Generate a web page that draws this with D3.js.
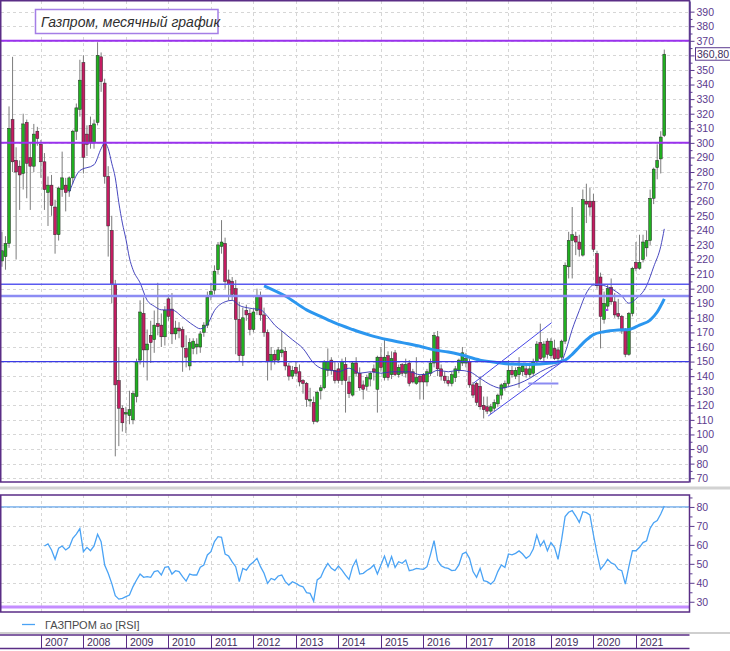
<!DOCTYPE html>
<html>
<head>
<meta charset="utf-8">
<title>Газпром, месячный график</title>
<script src="https://cdn.jsdelivr.net/npm/d3@7/dist/d3.min.js"></script>
<style>
  body { margin: 0; background: #fff; }
  svg { display: block; font-family: "Liberation Sans", Arial, sans-serif; }
  .grid line { stroke: #d6d6d6; stroke-dasharray: 3,3; shape-rendering: crispEdges; }
  .axis path, .axis line { stroke: #5b3a8e; }
  .axis text { fill: #5b3a8e; font-size: 10.5px; }
</style>
</head>
<body>
<svg id="chart" width="730" height="651"></svg>
<script>
// month index: 0 = Jan 2006, first candle is Feb 2006, last is Sep 2021
const firstIndex = 1;

const opens = [
  219,222,231,316,288,284,279,314,290,284,308,                 // 2006
  299,287,266,271,256,237,268,271,267,276,308,323,             // 2007
  355,306,312,300,314,359,341,277,240,203,137,118,             // 2008
  114,113,110,126,151,183,158,168,165,176,175,167,             // 2009
  193,186,169,173,172,159,147,159,160,160,170,175,             // 2010
  195,199,213,229,231,206,205,200,179,154,185,183,             // 2011
  172,185,195,182,170,150,155,151,156,157,147,140,             // 2012
  146,143,137,135,123,122,109,130,132,144,151,144,             // 2013
  145,137,148,136,127,149,142,134,133,138,145,131,             // 2014
  153,139,154,141,156,141,148,142,149,143,135,140,             // 2015
  141,136,142,149,167,145,140,137,135,139,144,149,             // 2016
  149,150,134,135,133,120,119,116,118,121,127,132,             // 2017
  135,144,140,141,143,145,141,142,150,163,153,164,             // 2018
  154,159,158,153,164,215,233,236,232,223,260,260,             // 2019
  260,224,208,179,188,201,191,183,181,172,155,183,             // 2020
  218,214,220,228,233,262,283,289,305                          // 2021
];
const highs = [
  239,236,325,359,297,288,320,316,300,313,311,
  302,293,277,278,261,270,294,276,277,309,327,357,
  360,312,318,316,369,362,344,284,250,206,160,120,
  119,130,130,152,192,194,172,178,185,204,183,188,
  196,197,178,177,174,168,166,166,166,171,177,198,
  204,216,232,247,235,213,208,206,191,187,189,186,
  186,200,198,187,172,160,158,160,171,160,149,147,
  150,148,138,136,132,126,130,134,151,159,153,150,
  149,152,153,140,150,153,146,137,141,143,148,154,
  160,166,157,157,158,148,149,152,151,145,153,141,
  142,145,152,170,171,148,143,140,143,147,152,160,
  156,152,136,136,140,126,126,121,124,128,135,137,
  151,147,146,153,149,148,147,152,164,176,164,166,
  166,165,160,165,218,239,256,239,237,268,272,269,
  265,226,211,198,203,207,197,193,182,173,184,215,
  232,237,237,240,268,283,299,308,364
];
const lows = [
  215,213,228,280,220,254,268,262,254,280,298,
  276,254,243,250,224,233,263,253,263,272,302,318,
  279,291,296,296,312,335,272,222,190,85,92,102,
  101,107,107,122,148,146,137,149,156,168,160,161,
  178,162,165,166,143,146,144,155,155,156,167,173,
  192,196,210,224,200,192,192,155,150,147,178,168,
  170,182,178,167,137,144,148,149,153,144,137,138,
  140,133,128,119,119,107,108,124,131,140,141,135,
  135,134,115,125,126,140,130,124,130,133,137,115,
  143,137,137,138,140,139,140,139,133,135,134,124,
  124,133,140,146,140,137,135,133,133,136,142,147,
  146,132,125,120,117,111,114,114,116,119,124,130,
  133,139,138,132,140,139,139,140,148,151,150,152,
  152,151,150,151,162,207,207,223,222,222,245,250,
  225,200,159,176,186,189,180,179,169,153,154,181,
  212,213,218,222,230,258,275,279,304
];
const closes = [
  226,231,310,287,280,278,313,286,284,306,303,
  287,268,271,257,237,269,276,266,276,308,324,343,
  290,299,300,313,360,342,277,243,203,134,118,108,
  115,117,128,150,184,158,162,163,175,174,167,185,
  181,169,173,171,160,153,163,164,162,169,175,194,
  198,212,230,232,205,203,196,179,154,180,182,172,
  184,195,182,170,150,155,151,158,158,147,140,144,
  142,136,135,124,124,109,129,132,150,150,144,137,
  137,150,137,128,149,142,132,131,139,142,143,153,
  146,153,139,152,141,146,142,148,135,136,139,136,
  136,143,149,168,145,140,137,135,141,145,151,156,
  152,134,127,122,119,117,116,119,122,127,134,135,
  144,141,144,146,147,141,145,150,162,152,162,155,
  164,152,152,164,216,233,237,232,227,261,258,256,
  227,202,181,190,200,191,182,181,171,155,183,214,
  214,218,232,233,262,282,288,304,360.8
];

// thin moving average (month index, price)
const fastMaMonth = [20,23,27,29,30,31,32,33,34,35,36,37,38,40,42,44,46,49,52,55,57,59,61,64,66,68,71,74,76,78,80,83,86,89,91,94,96,99,102,105,108,111,114,116,119,122,124,127,130,133,136,139,142,144,147,150,153,156,159,160,162,164,166,168,170,173,176,178,180,183,185,187,188];
const fastMaValue = [266,281,285,296,300,296,286,276,259,245,234,221,213,204,192,188,185.5,185.4,180.5,175,172.5,175.5,185,191,192,188.5,186.6,185.5,181,175,171,165,159,149,145.5,144,143,145.5,142,143,142,143,143,143,141,142,144,143,144,143,138.5,134,131.7,132.8,135,138.5,143,146.5,150,156,172,185,197,202.5,202.5,200,195,190,193,202,215,229,241];

// thick moving average
const slowMaMonth = [75,81,87,91,95,100,105,110,114,119,123,127,130,136,141,145,150,156,160,162,164,166,168,171,175,178,181,184,186,188];
const slowMaValue = [202,195,185.5,181,176.5,172,168,165,163,160.5,158,156.5,155,151,149.3,148.3,148,149,151,155,160,164.8,168.5,170.5,171.7,172,175,178.5,184,193];

// RSI, one value per month starting Feb 2007
const rsiStart = 13;
const rsiValues = [
  59.4,60.5,57.3,52.4,58.2,59.4,57.3,58.7,63.5,65.7,68.6,
  56.4,58.7,56.9,59.4,65.6,61.7,49.4,45,39.7,33.2,31.4,31.8,
  32.7,33.5,38,41.5,44.6,42.9,43.2,42.9,45.9,46.4,44.1,48.2,
  48.5,44.6,46.4,45.9,43.2,40.9,44.6,44.1,44.1,48.2,49.4,54.7,
  56.4,61.7,64.3,64,55.2,54.1,51,48.5,40.6,47.6,46.7,49.4,
  51,52.9,48.5,45,39.7,42.3,41.5,43.6,44.1,40.6,38.8,40.6,
  39.7,38.5,37.9,34.8,34.4,30.4,41.5,42.9,47.1,50.2,47.6,46.4,
  48.8,46.7,44,41.8,48.5,52,44.6,45,46.5,47.6,49.4,44.6,
  49.4,54.1,48.5,53.8,48.1,51.1,50.3,52,46.4,46.8,47.6,47.3,
  47.1,48.5,55,62.2,51.7,49,48,47.6,46.4,46.7,49.4,55.2,
  56.2,52.9,45.9,42.9,47.6,41.1,40.6,39.3,41.1,45.9,49.4,48.1,
  55.2,54.7,55.5,56.8,55.2,52.9,54.3,57.8,65.2,59.4,62.2,56.9,
  61.2,58.7,52.4,62.6,74.9,77.2,78.1,75.2,71.9,77.5,77,75.8,
  65.2,55.5,47.1,49.4,52.4,50.5,49.7,47.1,46.4,39.3,48.5,56.9,
  56.9,58.7,61.2,62.2,68.7,71.7,72.8,76.3,80.5
];

const levelValues = [370, 300, 203, 195, 150];
const rsiLevels = [80, 27.3];
const priceTicks = [70,80,90,100,110,120,130,140,150,160,170,180,190,200,210,220,230,240,250,260,270,280,290,300,310,320,330,340,350,360,370,380,390];
const rsiTicks = [30,40,50,60,70,80];
const years = ['2007','2008','2009','2010','2011','2012','2013','2014','2015','2016','2017','2018','2019','2020','2021'];

// trend channel drawn by hand on the chart (month index, price)
const channelUpper = [[134.1,135.1],[156.2,176.7]];
const channelLower = [[138.3,112.7],[159.5,150.4]];
const channelBase = [[149.6,135],[158.1,135]];
const markPoint = [[171.3,185.4],[172.2,185.4]];

const title = 'Газпром, месячный график';
const legendLabel = 'ГАЗПРОМ ао [RSI]';

// layout
const plotRight = 689.5;
const mainTop = 1, mainBottom = 482;
const rsiTop = 495, rsiBottom = 612;

const svg = d3.select('#chart');

const x = d3.scaleLinear().domain([0, 188]).range([-1.6, -1.6 + 188 * 3.542]);
const y = d3.scaleLinear().domain([67.4, 397.3]).range([mainBottom, mainTop]);
const yRsi = d3.scaleLinear().domain([24.6, 86.3]).range([rsiBottom, rsiTop]);

const yearIdx = years.map((d, k) => 12 + 12 * k);
const lastClose = closes[closes.length - 1];

const defs = svg.append('defs');
defs.append('clipPath').attr('id', 'clipMain')
  .append('rect').attr('x', 1).attr('y', mainTop).attr('width', plotRight - 1).attr('height', mainBottom - mainTop);
defs.append('clipPath').attr('id', 'clipRsi')
  .append('rect').attr('x', 1).attr('y', rsiTop).attr('width', plotRight - 1).attr('height', rsiBottom - rsiTop);

// grids
const gridMain = svg.append('g').attr('class', 'grid');
gridMain.selectAll('.h').data(priceTicks).join('line')
  .attr('x1', 1).attr('x2', plotRight)
  .attr('y1', d => Math.round(y(d)) + 0.5).attr('y2', d => Math.round(y(d)) + 0.5);
gridMain.selectAll('.v').data(yearIdx).join('line')
  .attr('x1', d => Math.round(x(d)) + 0.5).attr('x2', d => Math.round(x(d)) + 0.5)
  .attr('y1', mainTop).attr('y2', mainBottom);

const gridRsi = svg.append('g').attr('class', 'grid');
gridRsi.selectAll('.h').data(rsiTicks).join('line')
  .attr('x1', 1).attr('x2', plotRight)
  .attr('y1', d => Math.round(yRsi(d)) + 0.5).attr('y2', d => Math.round(yRsi(d)) + 0.5);
gridRsi.selectAll('.v').data(yearIdx).join('line')
  .attr('x1', d => Math.round(x(d)) + 0.5).attr('x2', d => Math.round(x(d)) + 0.5)
  .attr('y1', rsiTop).attr('y2', rsiBottom);

// candles
const candles = opens.map((o, k) => ({ i: firstIndex + k, o: o, h: highs[k], l: lows[k], c: closes[k] }));
const main = svg.append('g').attr('clip-path', 'url(#clipMain)');

main.append('g').selectAll('line').data(candles).join('line')
  .attr('x1', d => x(d.i)).attr('x2', d => x(d.i))
  .attr('y1', d => y(d.h)).attr('y2', d => y(d.l))
  .attr('stroke', '#7c7c7c').attr('stroke-width', 1);

main.append('g').selectAll('rect').data(candles).join('rect')
  .attr('x', d => x(d.i) - 1.45)
  .attr('width', 2.9)
  .attr('y', d => y(Math.max(d.o, d.c)))
  .attr('height', d => Math.max(1, Math.abs(y(d.o) - y(d.c))))
  .attr('fill', d => d.c >= d.o ? '#20b020' : '#c41c62')
  .attr('stroke', '#262626').attr('stroke-width', 0.5);

// moving averages
const line = d3.line().x(d => x(d[0])).y(d => y(d[1])).curve(d3.curveMonotoneX);
main.append('path')
  .datum(fastMaMonth.map((m, k) => [m, fastMaValue[k]]))
  .attr('d', line).attr('fill', 'none')
  .attr('stroke', '#3434b8').attr('stroke-width', 1).attr('stroke-opacity', 0.9);
main.append('path')
  .datum(slowMaMonth.map((m, k) => [m, slowMaValue[k]]))
  .attr('d', line).attr('fill', 'none')
  .attr('stroke', '#2b96ef').attr('stroke-width', 3);

// horizontal levels
const levelStyle = {
  370: { c: '#9a32ee', w: 2 },
  300: { c: '#9a32ee', w: 2 },
  203: { c: '#5a5af0', w: 1.6 },
  195: { c: '#8c8cf4', w: 2.4 },
  150: { c: '#3a3ae6', w: 1.3 }
};
main.append('g').selectAll('line').data(levelValues).join('line')
  .attr('x1', 1).attr('x2', plotRight)
  .attr('y1', d => y(d)).attr('y2', d => y(d))
  .attr('stroke', d => levelStyle[d].c).attr('stroke-width', d => levelStyle[d].w);

// trend channel
const straight = d3.line().x(d => x(d[0])).y(d => y(d[1]));
[channelUpper, channelLower].forEach(seg => {
  main.append('path').datum(seg).attr('d', straight)
    .attr('fill', 'none').attr('stroke', '#4646e6').attr('stroke-width', 1);
});
main.append('path').datum(channelBase).attr('d', straight)
  .attr('fill', 'none').attr('stroke', '#8b8bf2').attr('stroke-width', 2);
main.append('path').datum(markPoint).attr('d', straight)
  .attr('fill', 'none').attr('stroke', '#a83cf0').attr('stroke-width', 2);

// RSI panel
const rsiG = svg.append('g').attr('clip-path', 'url(#clipRsi)');
rsiG.append('line').attr('x1', 1).attr('x2', plotRight)
  .attr('y1', yRsi(rsiLevels[0])).attr('y2', yRsi(rsiLevels[0]))
  .attr('stroke', '#3f8fe6').attr('stroke-width', 1);
rsiG.append('line').attr('x1', 1).attr('x2', plotRight)
  .attr('y1', yRsi(rsiLevels[1])).attr('y2', yRsi(rsiLevels[1]))
  .attr('stroke', '#c48cff').attr('stroke-width', 3);
rsiG.append('path')
  .datum(rsiValues.map((v, k) => [rsiStart + k, v]))
  .attr('d', d3.line().x(d => x(d[0])).y(d => yRsi(d[1])))
  .attr('fill', 'none').attr('stroke', '#4aa3f5').attr('stroke-width', 1.3);

// frames
const frame = '#5a2d86';
svg.append('line').attr('x1', 0).attr('x2', plotRight).attr('y1', 0.75).attr('y2', 0.75)
  .attr('stroke', frame).attr('stroke-width', 1.5);
svg.append('line').attr('x1', 0).attr('x2', plotRight).attr('y1', mainBottom).attr('y2', mainBottom)
  .attr('stroke', frame).attr('stroke-width', 1.5);
svg.append('line').attr('x1', 0.75).attr('x2', 0.75).attr('y1', 0).attr('y2', mainBottom)
  .attr('stroke', frame).attr('stroke-width', 1.5);
svg.append('rect').attr('x', 0).attr('y', 486.5).attr('width', 730).attr('height', 3).attr('fill', '#d2d2d2');
svg.append('rect').attr('x', 0.75).attr('y', rsiTop).attr('width', plotRight - 0.75).attr('height', rsiBottom - rsiTop)
  .attr('fill', 'none').attr('stroke', frame).attr('stroke-width', 1.5);

// price axis (the label at the last price hides the nearest tick text)
const yAxisG = svg.append('g').attr('class', 'axis').attr('transform', `translate(${plotRight},0)`);
yAxisG.call(d3.axisRight(y).tickValues(priceTicks).tickSize(5).tickSizeOuter(0).tickPadding(2)
  .tickFormat(d => Math.abs(d - lastClose) < 6 ? '' : d3.format('d')(d)));
yAxisG.append('g').call(d3.axisRight(y).tickValues(priceTicks.slice(0, -1).map(d => d + 5)).tickSize(3).tickSizeOuter(0).tickFormat(''));
yAxisG.selectAll('path.domain').attr('stroke-width', 1.5);
yAxisG.select('path.domain').attr('d', `M0,0V${mainBottom}`);

const rsiAxisG = svg.append('g').attr('class', 'axis').attr('transform', `translate(${plotRight},0)`);
rsiAxisG.call(d3.axisRight(yRsi).tickValues(rsiTicks).tickSize(5).tickSizeOuter(0).tickPadding(2));
rsiAxisG.append('g').call(d3.axisRight(yRsi).tickValues([35,45,55,65,75,85]).tickSize(3).tickSizeOuter(0).tickFormat(''));
rsiAxisG.selectAll('path.domain').remove();

// last price label
const priceText = d3.format('.2f')(lastClose).replace('.', ',');
const labelG = svg.append('g');
const labelRect = labelG.append('rect').attr('fill', '#fff').attr('stroke', '#5b3a8e').attr('stroke-width', 1);
const labelTxt = labelG.append('text').attr('x', 697).attr('y', y(lastClose) + 3.6)
  .attr('font-size', '10.5px').attr('fill', '#3d2d5c').text(priceText);
const tw = labelTxt.node().getComputedTextLength();
labelRect.attr('x', 695.5).attr('y', y(lastClose) - 6.5).attr('width', tw + 3.5).attr('height', 12.5);

// title box
svg.append('rect').attr('x', 35.5).attr('y', 9.5).attr('width', 182.5).attr('height', 24)
  .attr('fill', '#fff').attr('stroke', '#a47ee6').attr('stroke-width', 1.5);
svg.append('text').attr('x', 41).attr('y', 26.5)
  .attr('font-size', '14px').attr('font-style', 'italic').attr('fill', '#2f2f2f')
  .text(title);

// RSI legend
svg.append('line').attr('x1', 22).attr('x2', 35).attr('y1', 624.5).attr('y2', 624.5)
  .attr('stroke', '#4aa3f5').attr('stroke-width', 1.3);
svg.append('text').attr('x', 45).attr('y', 628.5).attr('font-size', '11px').attr('fill', '#4a4a4a')
  .text(legendLabel);

// year band
svg.append('rect').attr('x', 0).attr('y', 632).attr('width', 730).attr('height', 2).attr('fill', '#cfcfcf');
svg.append('line').attr('x1', 0).attr('x2', plotRight).attr('y1', 635).attr('y2', 635)
  .attr('stroke', frame).attr('stroke-width', 1.5);
svg.append('line').attr('x1', 0).attr('x2', plotRight).attr('y1', 648.5).attr('y2', 648.5)
  .attr('stroke', frame).attr('stroke-width', 1.5);
const yearG = svg.append('g');
yearG.selectAll('line').data(yearIdx).join('line')
  .attr('x1', d => Math.round(x(d)) + 0.5).attr('x2', d => Math.round(x(d)) + 0.5)
  .attr('y1', 635).attr('y2', 648.5)
  .attr('stroke', frame).attr('stroke-width', 1);
yearG.selectAll('text').data(years).join('text')
  .attr('x', (d, k) => Math.round(x(yearIdx[k])) + 4)
  .attr('y', 646)
  .attr('font-size', '10.5px').attr('fill', '#3d2d5c')
  .text(d => d);
</script>
</body>
</html>
